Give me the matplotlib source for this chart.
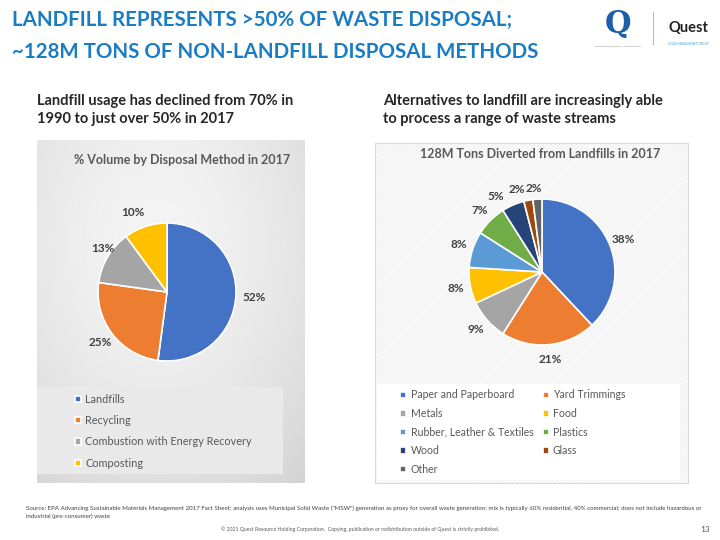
import matplotlib.pyplot as plt
import numpy as np
from matplotlib.patches import Rectangle

plt.rcParams['font.family'] = ['Lato', 'DejaVu Sans']
plt.rcParams['hatch.linewidth'] = 0.5

# data
left_labels = ['Landfills', 'Recycling', 'Combustion with Energy Recovery', 'Composting']
left_values = [52.1, 25.1, 12.7, 10.1]
left_colors = ['#4472C4', '#ED7D31', '#A5A5A5', '#FFC000']

right_labels = ['Paper and Paperboard', 'Yard Trimmings', 'Metals', 'Food',
                'Rubber, Leather & Textiles', 'Plastics', 'Wood', 'Glass', 'Other']
right_values = [38, 21, 9, 8, 8, 7, 5, 2, 2]
right_colors = ['#4472C4', '#ED7D31', '#A5A5A5', '#FFC000', '#5B9BD5',
                '#70AD47', '#264478', '#9E480E', '#636363']

W, H = 720, 540
fig = plt.figure(figsize=(7.2, 5.4), dpi=100)
bg = fig.add_axes([0, 0, 1, 1])
bg.set_xlim(0, W)
bg.set_ylim(H, 0)
bg.axis('off')

def rect(x, y, w, h):
    return [x / W, 1 - (y + h) / H, w / W, h / H]

blue = '#1A7DC4'
bg.text(12, 26, 'LANDFILL REPRESENTS >50% OF WASTE DISPOSAL;', fontsize=14.8,
        fontweight='bold', color=blue, va='baseline')
bg.text(12, 58, '~128M TONS OF NON-LANDFILL DISPOSAL METHODS', fontsize=14.8,
        fontweight='bold', color=blue, va='baseline')

bg.text(37, 110, 'Landfill usage has declined from 70% in\n1990 to just over 50% in 2017',
        fontsize=10.5, fontweight='bold', color='#262626', va='center', linespacing=1.45)
bg.text(383, 110, 'Alternatives to landfill are increasingly able\nto process a range of waste streams',
        fontsize=10.5, fontweight='bold', color='#262626', va='center', linespacing=1.45)

# logos (approximate)
bg.text(618, 24, 'Q', fontsize=22, fontweight='bold', color='#1d5ea8', ha='center', va='center',
        family='DejaVu Serif')
bg.text(618, 46, 'QUEST RESOURCE HOLDING CORPORATION', fontsize=1.6, color='#777777',
        ha='center', va='center')
bg.plot([653, 653], [12, 44], color='#bbbbbb', lw=0.8)
bg.text(688, 28, 'Quest', fontsize=10.5, fontweight='bold', color='#222222', ha='center', va='center')
bg.text(688, 44, 'SOLIDS MANAGEMENT GROUP', fontsize=2, color='#3aa0d8', ha='center', va='center')

# left panel gradient background
yy, xx = np.mgrid[0:1:200j, 0:1:200j]
d = np.sqrt(((xx - 0.45) / 1.0) ** 2 + ((yy - 0.3) / 1.1) ** 2)
grad = 0.955 - 0.17 * np.clip(d, 0, 1) ** 1.6
bg.imshow(grad, cmap='gray', vmin=0, vmax=1, extent=[37, 305, 483, 140],
          aspect='auto', zorder=0)
bg.add_patch(Rectangle((37, 387), 246, 87, facecolor='#e9e9e9', edgecolor='none', zorder=1))
bg.text(182, 160, '% Volume by Disposal Method in 2017', fontsize=9, fontweight='bold',
        color='#595959', ha='center', va='center', zorder=2)

# right panel
bg.add_patch(Rectangle((375, 143), 313, 340, facecolor='#fafafa', edgecolor='#ececec',
                       hatch='////////', lw=0, zorder=0))
bg.add_patch(Rectangle((375, 143), 313, 340, facecolor='none', edgecolor='#d9d9d9',
                       lw=0.8, zorder=0.5))
bg.add_patch(Rectangle((377, 384), 303, 96, facecolor='white', edgecolor='none', zorder=1))
bg.text(540, 154, '128M Tons Diverted from Landfills in 2017', fontsize=9, fontweight='bold',
        color='#595959', ha='center', va='center', zorder=2)

# left pie
r1 = 69
ax1 = fig.add_axes(rect(167 - r1, 292 - r1, 2 * r1, 2 * r1))
w1, _, t1 = ax1.pie(left_values, colors=left_colors, startangle=90, counterclock=False,
                    autopct='%.0f%%', pctdistance=1.22,
                    wedgeprops=dict(edgecolor='white', linewidth=1.2),
                    textprops=dict(fontsize=8.5, fontweight='bold', color='#404040'))
ax1.set_xlim(-1, 1)
ax1.set_ylim(-1, 1)
# nudge labels like Excel's best fit
for t, (dx, dy) in zip(t1, [(0.05, 0), (0, 0), (0.12, 0), (-0.12, 0)]):
    x, y = t.get_position()
    t.set_position((x + dx, y + dy))

# right pie
r2 = 73
ax2 = fig.add_axes(rect(542 - r2, 272 - r2, 2 * r2, 2 * r2))
w2, _, t2 = ax2.pie(right_values, colors=right_colors, startangle=90, counterclock=False,
                    autopct='%.0f%%', pctdistance=1.2,
                    wedgeprops=dict(edgecolor='white', linewidth=1.2),
                    textprops=dict(fontsize=8.5, fontweight='bold', color='#404040'))
ax2.set_xlim(-1, 1)
ax2.set_ylim(-1, 1)
for i, (dx, dy) in {6: (-0.16, -0.07), 7: (-0.12, -0.05), 8: (-0.03, -0.05)}.items():
    x, y = t2[i].get_position()
    t2[i].set_position((x + dx, y + dy))

# legends
fig.legend(w1, left_labels, loc='upper left', bbox_to_anchor=(65 / W, 1 - 384 / H),
           frameon=False, fontsize=7.8, labelcolor='#595959', handlelength=0.55,
           handleheight=0.55, handletextpad=0.4, labelspacing=0.95)

order = [0, 2, 4, 6, 8, 1, 3, 5, 7]
fig.legend([w2[i] for i in order], [right_labels[i] for i in order], ncol=2,
           loc='upper left', bbox_to_anchor=(391 / W, 1 - 380 / H), frameon=False,
           fontsize=7.6, labelcolor='#595959', handlelength=0.55, handleheight=0.55,
           handletextpad=0.4, labelspacing=0.72, columnspacing=0.9)

# footer
bg.text(26, 512, 'Source: EPA Advancing Sustainable Materials Management 2017 Fact Sheet; analysis uses '
        'Municipal Solid Waste ("MSW") generation as proxy for overall waste generation; mix is typically '
        '60% residential, 40% commercial; does not include hazardous or\nindustrial (pre-consumer) waste',
        fontsize=4.4, color='#404040', va='center', linespacing=1.45)
bg.text(360, 529, '\u00a9 2021 Quest Resource Holding Corporation.  Copying, publication or redistribution '
        'outside of Quest is strictly prohibited.', fontsize=3.7, color='#595959', ha='center', va='center')
bg.text(705, 529, '13', fontsize=6, color='#595959', ha='center', va='center')

fig.savefig('out.png', dpi=100)
